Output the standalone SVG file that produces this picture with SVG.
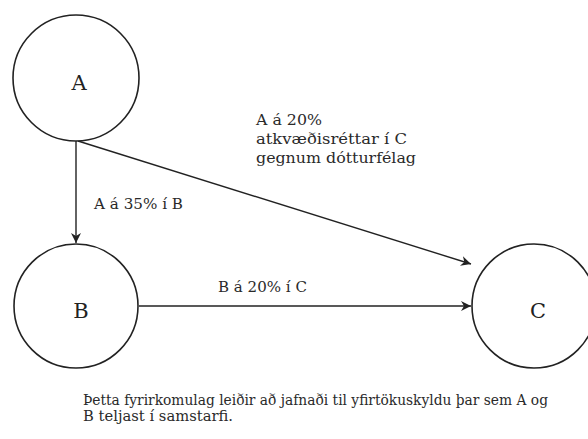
<svg xmlns="http://www.w3.org/2000/svg" width="588" height="439" viewBox="0 0 588 439">
<style>
.node{fill:#fff;stroke:#222;stroke-width:1.6}
.lbl{font-family:"DejaVu Serif","Liberation Serif",serif;font-size:21px;fill:#222;text-anchor:middle}
.t{font-family:"DejaVu Serif","Liberation Serif",serif;font-size:14.5px;fill:#2a2a2a}
.edge{stroke:#222;stroke-width:1.4;fill:none}
</style>
<defs>
<marker id="arr" viewBox="0 0 10 10" refX="10" refY="5" markerWidth="10" markerHeight="10" markerUnits="userSpaceOnUse" orient="auto">
<path d="M0,0 L10,5 L0,10 L3,5 Z" fill="#222"/>
</marker>
</defs>
<g id="connectors">
<line class="edge" x1="76" y1="141" x2="76" y2="243" marker-end="url(#arr)"/>
<line class="edge" x1="139" y1="306" x2="471" y2="306" marker-end="url(#arr)"/>
<line class="edge" x1="78" y1="141" x2="471" y2="264" marker-end="url(#arr)"/>
</g>
<g id="node-A"><circle class="node" cx="76" cy="78" r="63"/><text class="lbl" x="79" y="90">A</text></g>
<g id="node-B"><circle class="node" cx="76" cy="306" r="62"/><text class="lbl" x="81" y="318">B</text></g>
<g id="node-C"><circle class="node" cx="534" cy="306" r="62"/><text class="lbl" x="538" y="318">C</text></g>
<g id="labels">
<text class="t" x="256" y="125" textLength="66" lengthAdjust="spacingAndGlyphs">A á 20%</text>
<text class="t" x="256" y="144" textLength="151" lengthAdjust="spacingAndGlyphs">atkvæðisréttar í C</text>
<text class="t" x="256" y="163" textLength="160" lengthAdjust="spacingAndGlyphs">gegnum dótturfélag</text>
<text class="t" x="94" y="209" textLength="89" lengthAdjust="spacingAndGlyphs">A á 35% í B</text>
<text class="t" x="218" y="292" textLength="89" lengthAdjust="spacingAndGlyphs">B á 20% í C</text>
<text class="t" x="83" y="405" textLength="465" lengthAdjust="spacingAndGlyphs">Þetta fyrirkomulag leiðir að jafnaði til yfirtökuskyldu þar sem A og</text>
<text class="t" x="83" y="421" textLength="150" lengthAdjust="spacingAndGlyphs">B teljast í samstarfi.</text>
</g>
</svg>
